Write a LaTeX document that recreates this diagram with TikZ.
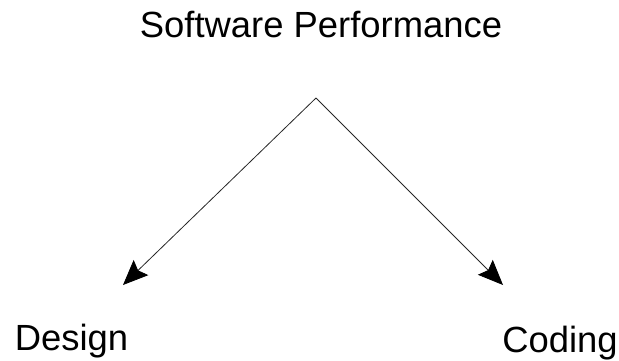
\documentclass[tikz,border=0pt]{standalone}
\usepackage{fontspec}
\setmainfont{Liberation Sans}
\usetikzlibrary{arrows.meta}
\begin{document}
\begin{tikzpicture}[x=1pt,y=1pt,
  lbl/.style={inner sep=0pt, anchor=base, font=\fontsize{36.4}{40}\selectfont},
  conn/.style={line width=0.8pt, draw=black!85, -{Stealth[length=25pt, width=21pt, inset=4pt, black]}}]
\useasboundingbox (0,0) rectangle (619,360);
\node[lbl] (title) at (321,323) {Software Performance};
\node[lbl] (design) at (71.5,10) {Design};
\node[lbl] (coding) at (560,8) {Coding};
\coordinate (apex) at (316,262);
\coordinate (ltip) at (123,75);
\coordinate (rtip) at (503,75);
\draw[conn] (apex) -- (ltip);
\draw[conn] (apex) -- (rtip);
\end{tikzpicture}
\end{document}
